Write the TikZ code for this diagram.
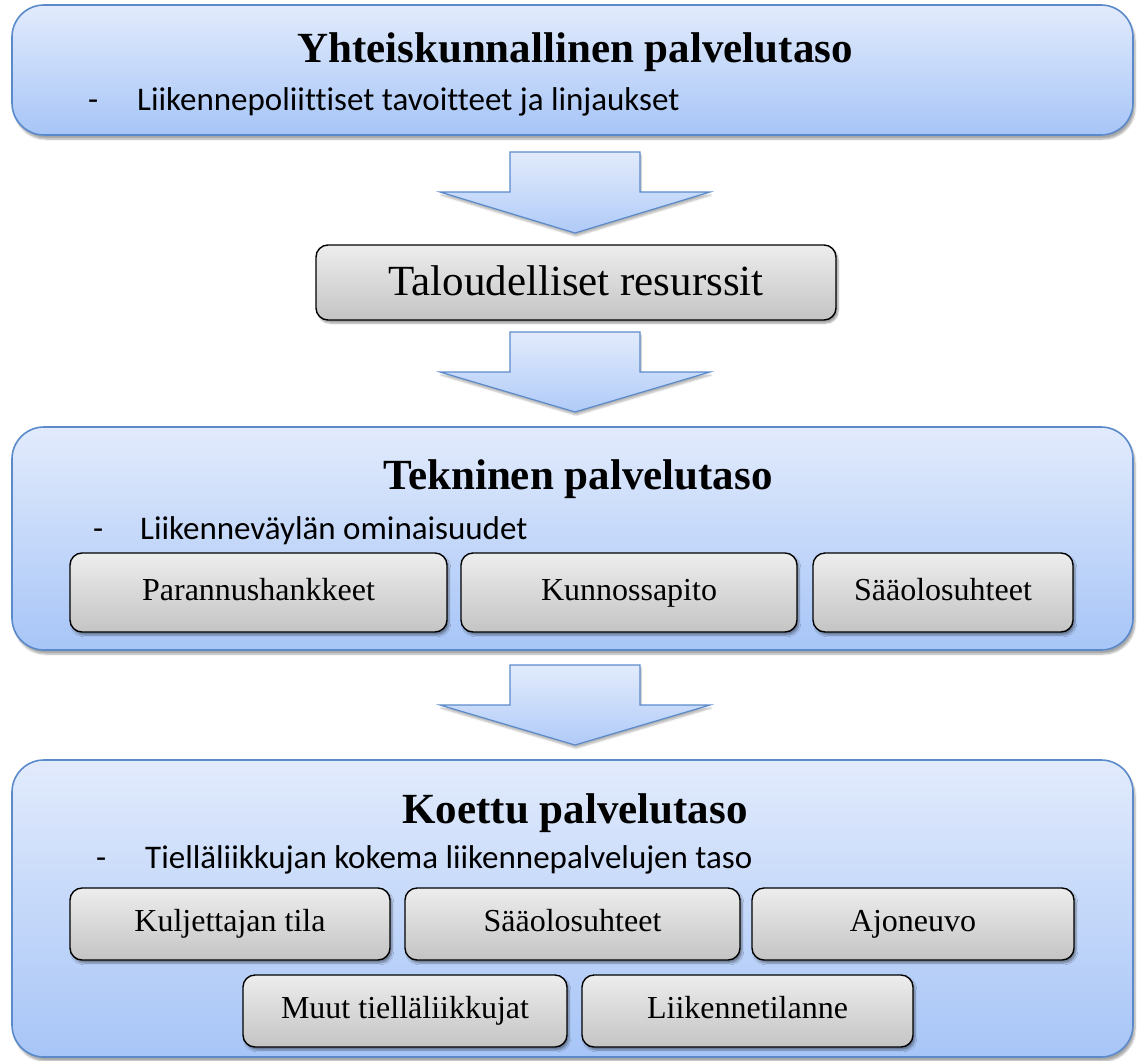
\documentclass[tikz,border=0pt]{standalone}
\usepackage{fontspec}
\setmainfont{Liberation Serif}
\newfontfamily\subfont[Ligatures=NoCommon]{Carlito}
\usetikzlibrary{shadows.blur}
\definecolor{bborder}{HTML}{5B8ACB}
\definecolor{btop}{HTML}{E2EBFC}
\definecolor{bbot}{HTML}{A7C5F7}
\definecolor{gtop}{HTML}{EDEDED}
\definecolor{gbot}{HTML}{C4C4C4}
\tikzset{
  bigbox/.style={draw=bborder, line width=1.6pt, rounded corners=32pt, top color=btop, bottom color=bbot,
     minimum width=1121pt, inner sep=0pt,
     blur shadow={shadow xshift=2pt, shadow yshift=-4pt, shadow blur steps=6, shadow opacity=35}},
  graybox/.style={draw=black, line width=1.4pt, rounded corners=12pt, top color=gtop, bottom color=gbot,
     inner sep=0pt, font=\fontsize{32}{36}\selectfont, text height=22pt, text depth=7pt,
     blur shadow={shadow xshift=2pt, shadow yshift=-3pt, shadow blur steps=5, shadow opacity=40}},
  bigtitle/.style={font=\fontsize{43}{48}\selectfont\bfseries, inner sep=0pt, anchor=base},
  subtext/.style={font=\subfont\fontsize{33}{38}\selectfont, inner sep=0pt, anchor=base west},
  blockarrow/.style={draw=bborder, line width=1.2pt, top color=btop, bottom color=bbot!90,
     blur shadow={shadow xshift=1pt, shadow yshift=-3pt, shadow blur steps=5, shadow opacity=30}}
}
\begin{document}
\begin{tikzpicture}[x=1pt,y=-1pt]
\useasboundingbox (0,0) rectangle (1140,1060);
% level 1
\node[bigbox, minimum height=130pt] (b1) at (572.5,70) {};
\node[bigtitle] (t1) at (575,62) {Yhteiskunnallinen palvelutaso};
\node[subtext] (d1) at (88,110) {-};
\node[subtext] (s1) at (137,110) {Liikennepoliittiset tavoitteet ja linjaukset};
% arrow 1
\draw[blockarrow] (510,152) -- (640,152) -- (640,192) -- (710,192) -- (575,233) -- (440,192) -- (510,192) -- cycle;
% resources
\node[graybox, minimum width=520pt, minimum height=75pt, font=\fontsize{43}{48}\selectfont,
      text height=31pt, text depth=6pt] (tr) at (576,282.5) {Taloudelliset resurssit};
% arrow 2
\draw[blockarrow] (510,332) -- (640,332) -- (640,372) -- (710,372) -- (575,412) -- (440,372) -- (510,372) -- cycle;
% level 2
\node[bigbox, minimum height=223pt] (b2) at (572.5,538.5) {};
\node[bigtitle] (t2) at (578,489) {Tekninen palvelutaso};
\node[subtext] (d2) at (93,539) {-};
\node[subtext] (s2) at (140,539) {Liikenneväylän ominaisuudet};
\node[graybox, minimum width=377pt, minimum height=79pt] (p1) at (258.5,592.5) {Parannushankkeet};
\node[graybox, minimum width=336pt, minimum height=79pt] (p2) at (629,592.5) {Kunnossapito};
\node[graybox, minimum width=260pt, minimum height=79pt] (p3) at (943,592.5) {Sääolosuhteet};
% arrow 3
\draw[blockarrow] (510,665) -- (640,665) -- (640,705) -- (710,705) -- (575,745) -- (440,705) -- (510,705) -- cycle;
% level 3
\node[bigbox, minimum height=297pt] (b3) at (572.5,908.5) {};
\node[bigtitle] (t3) at (575,823) {Koettu palvelutaso};
\node[subtext] (d3) at (96,868) {-};
\node[subtext] (s3) at (145,868) {Tielläliikkujan kokema liikennepalvelujen taso};
\node[graybox, minimum width=320pt, minimum height=72pt] (k1) at (230,924) {Kuljettajan tila};
\node[graybox, minimum width=335pt, minimum height=72pt] (k2) at (572.5,924) {Sääolosuhteet};
\node[graybox, minimum width=322pt, minimum height=72pt] (k3) at (913,924) {Ajoneuvo};
\node[graybox, minimum width=324pt, minimum height=72pt] (k4) at (405,1011) {Muut tielläliikkujat};
\node[graybox, minimum width=331pt, minimum height=72pt] (k5) at (747.5,1011) {Liikennetilanne};
\end{tikzpicture}
\end{document}
